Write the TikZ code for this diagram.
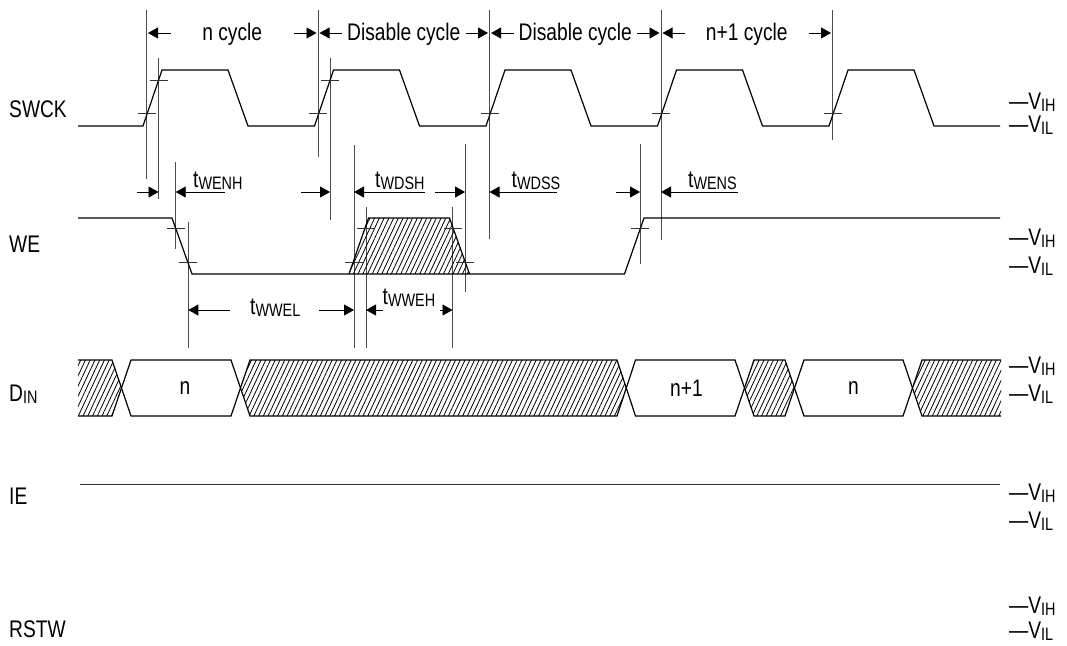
\documentclass[tikz,border=0pt]{standalone}
\usepackage{fontspec}
\setmainfont{Liberation Sans}[FakeStretch=0.8]
\usetikzlibrary{arrows.meta,patterns.meta}

\newcommand\lsub[1]{\raisebox{-2.5pt}{\fontsize{18}{18}\selectfont #1}}

\tikzset{
  wave/.style={line width=1.2pt},
  guide/.style={line width=0.8pt, black!70},
  tickmark/.style={line width=0.8pt, black!80},
  hatch/.style={pattern={Lines[angle=65,distance=4.3pt,line width=0.8pt]}},
  lbl/.style={font=\fontsize{24}{24}\selectfont, inner sep=0pt},
  dim/.style={line width=0.8pt, ->},
}

\begin{document}
\begin{tikzpicture}[x=1pt, y=-1pt, >={Triangle[length=10pt,width=11pt]}]
\useasboundingbox (0,0) rectangle (1067,645);

% signal names
\node[lbl, anchor=base west] (swck) at (9,117.5) {SWCK};
\node[lbl, anchor=base west] (we) at (9,252) {WE};
\node[lbl, anchor=base west] (din) at (9,401) {D\lsub{IN}};
\node[lbl, anchor=base west] (ie) at (9,504) {IE};
\node[lbl, anchor=base west] (rstw) at (9,637) {RSTW};

% levels on the right
\foreach \nm/\yh/\yl in {swck/109/132, we/245/273, din/373/401, ie/500/528, rstw/613/638}
{
    \node[lbl, anchor=base west] (\nm vih) at (1009,\yh) {---V\lsub{IH}};
    \node[lbl, anchor=base west] (\nm vil) at (1009,\yl) {---V\lsub{IL}};
}

% cycles
\foreach \xa/\xb/\txt [count=\i] in {146.5/318/n cycle, 318/489.5/Disable cycle, 489.5/661/Disable cycle, 661/832.5/n+1 cycle}
{
    \draw[dim] (\xa+24,33) -- (\xa+1.5,33);
    \draw[dim] (\xb-24,33) -- (\xb-1.5,33);
    \node[lbl, anchor=base] (cyc\i) at ({(\xa+\xb)/2},40) {\txt};
}

% guide lines
\foreach \x/\ya/\yb in {146.5/10/179, 158.5/58/199, 175.7/162/249, 188.3/222/348,
    318/10/157, 330/58/220, 354/145/348, 366/207/348, 452.5/207/348, 465/144/292,
    489.5/10/239, 640/144/264, 661/10/240, 832.5/10/140}
    \draw[guide] (\x,\ya) -- (\x,\yb);

% SWCK
\draw[wave] (78,126) \foreach \s in {143,314.5,486,657.5,829}{ -- (\s,126) -- (\s+19,70) -- (\s+85,70) -- (\s+105,126)} -- (1000,126);
\foreach \s in {143,314.5,486,657.5,829}
    \draw[tickmark] (\s-5.5,113.3) -- (\s+12.5,113.3);
\foreach \s in {143,314.5}
    \draw[tickmark] (\s+6.5,80) -- (\s+24.5,80);

% WE
\draw[wave] (78,218) -- (172,218) -- (192,274) -- (624.5,274) -- (644,218) -- (1000,218);
\draw[wave, hatch] (349,274) -- (368.5,218) -- (449.5,218) -- (469.5,274);
\foreach \x/\y in {175.7/228.3, 188.3/262.7, 366/228.3, 354/262.7, 452.5/228.3, 465/262.7, 640/228.3}
    \draw[tickmark] (\x-9,\y) -- (\x+9,\y);

% setup / hold
\draw[dim] (137,192) -- (158.5,192);
\draw[dim] (225,192) -- (175.7,192);
\node[lbl, anchor=base west] (twenh) at (193,187) {t\lsub{WENH}};
\draw[dim] (301,192) -- (330,192);
\draw[dim] (425,192) -- (354,192);
\node[lbl, anchor=base west] (twdsh) at (375,187) {t\lsub{WDSH}};
\draw[dim] (435,192) -- (465,192);
\draw[dim] (557,192) -- (489.5,192);
\node[lbl, anchor=base west] (twdss) at (511.5,187) {t\lsub{WDSS}};
\draw[dim] (616,192) -- (640,192);
\draw[dim] (738,192) -- (661,192);
\node[lbl, anchor=base west] (twens) at (688,187) {t\lsub{WENS}};

% pulse widths
\draw[dim] (230,310) -- (188.3,310);
\draw[dim] (319,310) -- (354,310);
\node[lbl, anchor=base west] (twwel) at (250,314) {t\lsub{WWEL}};
\draw[dim] (383,310) -- (366,310);
\draw[dim] (440,310) -- (452.5,310);
\node[lbl, anchor=base west] (twweh) at (382.5,304) {t\lsub{WWEH}};

% DIN
\fill[hatch] (78,360) -- (112,360) -- (121.5,388) -- (112,416) -- (78,416) -- cycle;
\fill[hatch] (240.5,388) -- (250,360) -- (617,360) -- (626,388) -- (617,416) -- (250,416) -- cycle;
\fill[hatch] (744.5,388) -- (754,360) -- (785,360) -- (794.5,388) -- (785,416) -- (754,416) -- cycle;
\fill[hatch] (912.5,388) -- (922,360) -- (1001,360) -- (1001,416) -- (922,416) -- cycle;
\draw[wave] (78,360) -- (112,360) -- (131,416) -- (231,416) -- (250,360) -- (617,360) -- (635.5,416) -- (735,416) -- (754,360) -- (785,360) -- (804,416) -- (903,416) -- (922,360) -- (1001,360);
\draw[wave] (78,416) -- (112,416) -- (131,360) -- (231,360) -- (250,416) -- (617,416) -- (635.5,360) -- (735,360) -- (754,416) -- (785,416) -- (804,360) -- (903,360) -- (922,416) -- (1001,416);
\node[lbl] (dn1) at (185,388) {n};
\node[lbl] (dn2) at (686.5,388) {n+1};
\node[lbl] (dn3) at (853.5,388) {n};

% IE
\draw[line width=1pt, black!80] (80,484) -- (1000,484);

\end{tikzpicture}
\end{document}
